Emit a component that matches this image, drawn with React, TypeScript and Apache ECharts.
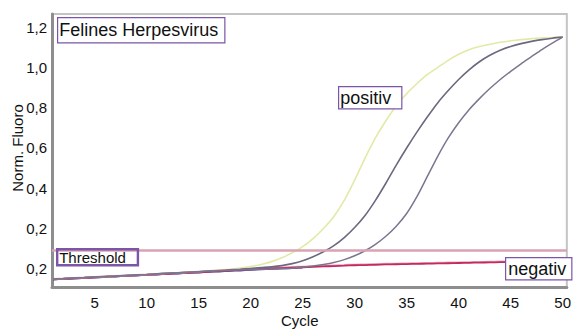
import React, { useEffect, useRef } from "react";
import * as echarts from "echarts";

const cycles = Array.from({ length: 50 }, (_, i) => i + 1);

const posYellow = [
  -0.05, -0.048, -0.045, -0.043, -0.04, -0.038, -0.036, -0.033, -0.03, -0.028,
  -0.025, -0.022, -0.02, -0.017, -0.014, -0.01, -0.006, -0.002, 0.004, 0.012,
  0.022, 0.036, 0.055, 0.08, 0.11, 0.15, 0.2, 0.26, 0.34, 0.44,
  0.55, 0.65, 0.735, 0.81, 0.87, 0.92, 0.965, 1.0, 1.035, 1.065,
  1.088, 1.104, 1.115, 1.125, 1.132, 1.138, 1.143, 1.146, 1.148, 1.15,
];

const posMiddle = [
  -0.05, -0.048, -0.045, -0.043, -0.04, -0.038, -0.036, -0.033, -0.03, -0.028,
  -0.025, -0.022, -0.02, -0.017, -0.014, -0.011, -0.008, -0.005, -0.002, 0.002,
  0.006, 0.01, 0.016, 0.026, 0.04, 0.06, 0.085, 0.115, 0.155, 0.205,
  0.265, 0.34, 0.425, 0.515, 0.6, 0.68, 0.755, 0.825, 0.885, 0.94,
  0.988, 1.028, 1.06, 1.085, 1.104, 1.118, 1.129, 1.138, 1.145, 1.15,
];

const posLate = [
  -0.05, -0.048, -0.045, -0.043, -0.04, -0.038, -0.036, -0.033, -0.03, -0.028,
  -0.025, -0.022, -0.02, -0.017, -0.014, -0.011, -0.009, -0.007, -0.005, -0.003,
  -0.002, -0.001, 0.0, 0.003, 0.008, 0.014, 0.022, 0.032, 0.046, 0.065,
  0.09, 0.122, 0.162, 0.212, 0.275, 0.36, 0.46, 0.56, 0.65, 0.725,
  0.79, 0.845, 0.895, 0.94, 0.98, 1.018, 1.053, 1.088, 1.12, 1.15,
];

const negRed = [
  -0.052, -0.05, -0.047, -0.045, -0.042, -0.04, -0.037, -0.035, -0.032, -0.03,
  -0.027, -0.025, -0.022, -0.02, -0.017, -0.014, -0.011, -0.008, -0.005, -0.002,
  0.0, 0.002, 0.004, 0.006, 0.008, 0.01, 0.012, 0.014, 0.016, 0.018,
  0.019, 0.02, 0.022, 0.023, 0.024, 0.025, 0.026, 0.027, 0.028, 0.029,
  0.03, 0.031, 0.032, 0.033, 0.034, 0.035, 0.036, 0.037, 0.037, 0.038,
];

const negPink = [
  -0.05, -0.048, -0.045, -0.043, -0.04, -0.038, -0.035, -0.033, -0.03, -0.028,
  -0.025, -0.022, -0.02, -0.017, -0.014, -0.011, -0.008, -0.005, -0.002, 0.0,
  0.003, 0.005, 0.007, 0.009, 0.011, 0.013, 0.015, 0.017, 0.019, 0.021,
  0.022, 0.024, 0.025, 0.026, 0.027, 0.028, 0.029, 0.03, 0.031, 0.032,
  0.033, 0.034, 0.035, 0.036, 0.037, 0.038, 0.039, 0.04, 0.041, 0.042,
];

const negBlue = [
  -0.053, -0.05, -0.048, -0.045, -0.043, -0.04, -0.038, -0.035, -0.033, -0.03,
  -0.028, -0.025, -0.023, -0.02, -0.018, -0.015, -0.013, -0.01, -0.008, -0.005,
  -0.003, 0.0, 0.002, 0.004, 0.006,
];

const thresholdValue = 0.089;

const xTicks = [5, 10, 15, 20, 25, 30, 35, 40, 45, 50];
const yTicks = [0, 0.2, 0.4, 0.6, 0.8, 1.0, 1.2];
const yTickLabels = ["0,2", "0,2", "0,4", "0,6", "0,8", "1,0", "1,2"];

const FONT = "Liberation Sans, Arial, Helvetica, sans-serif";

const pairs = (vals: number[]) => vals.map((v, i) => [cycles[i], v]);

export default function App() {
  const ref = useRef<HTMLDivElement>(null);

  useEffect(() => {
    if (!ref.current) return;
    const chart = echarts.init(ref.current, null, { renderer: "svg" });
    const lineSeries = (name: string, vals: number[], color: string, width = 1.6) => ({
      name,
      type: "line",
      data: pairs(vals),
      showSymbol: false,
      smooth: 0.3,
      lineStyle: { color, width },
      itemStyle: { color },
      z: 3,
    });
    chart.setOption({
      animation: false,
      backgroundColor: "#ffffff",
      grid: {
        left: 52,
        right: 2,
        top: 14,
        bottom: 42,
        show: true,
        borderColor: "#c4c4c4",
        borderWidth: 2,
        backgroundColor: "#ffffff",
      },
      xAxis: {
        type: "value",
        min: 0.9,
        max: 50.4,
        axisLine: { show: true, onZero: false, lineStyle: { color: "#8e8e8e", width: 3 } },
        axisTick: { show: false },
        splitLine: { show: false },
        axisLabel: {
          customValues: xTicks,
          color: "#111",
          fontSize: 15,
          fontFamily: FONT,
          margin: 8,
        },
      },
      yAxis: {
        type: "value",
        min: -0.09,
        max: 1.265,
        axisLine: { show: true, onZero: false, lineStyle: { color: "#8e8e8e", width: 3 } },
        axisTick: { show: false },
        splitLine: { show: false },
        axisLabel: {
          customValues: yTicks,
          color: "#111",
          fontSize: 15,
          fontFamily: FONT,
          margin: 5,
          formatter: (v: number) => {
            const idx = yTicks.findIndex((t) => Math.abs(t - v) < 1e-6);
            return idx >= 0 ? yTickLabels[idx] : "";
          },
        },
      },
      series: [
        {
          name: "Threshold",
          type: "line",
          data: [],
          markLine: {
            silent: true,
            symbol: "none",
            label: { show: false },
            lineStyle: { color: "#d9a3b3", width: 2.5, type: "solid" },
            data: [{ yAxis: thresholdValue }],
          },
        },
        lineSeries("negBlue", negBlue, "#3f3f9a", 1.8),
        lineSeries("negPink", negPink, "#e6a6c4", 2),
        lineSeries("negRed", negRed, "#c42a5e", 1.8),
        lineSeries("posYellow", posYellow, "#e3e9a6", 1.6),
        lineSeries("posMiddle", posMiddle, "#6c6880", 1.6),
        lineSeries("posLate", posLate, "#7d7590", 1.5),
      ],
      graphic: [
        {
          type: "text",
          left: 57,
          top: 17,
          z: 10,
          style: {
            text: "Felines Herpesvirus",
            fontSize: 18,
            fontFamily: FONT,
            fill: "#111",
            backgroundColor: "#fff",
            borderColor: "#7a55a8",
            borderWidth: 1.2,
            padding: [3, 6, 3, 1],
          },
        },
        {
          type: "text",
          left: 338,
          top: 86,
          z: 10,
          style: {
            text: "positiv",
            fontSize: 18,
            fontFamily: FONT,
            fill: "#111",
            backgroundColor: "#fff",
            borderColor: "#7a55a8",
            borderWidth: 1.2,
            padding: [2, 10, 1, 1],
          },
        },
        {
          type: "text",
          left: 56,
          top: 248,
          z: 10,
          style: {
            text: "Threshold",
            fontSize: 15,
            fontFamily: FONT,
            fill: "#111",
            backgroundColor: "rgba(255,255,255,0)",
            borderColor: "#7a55a8",
            borderWidth: 1.2,
            padding: [1, 12, 0, 2],
          },
        },
        {
          type: "text",
          left: 505,
          top: 257,
          z: 10,
          style: {
            text: "negativ",
            fontSize: 18,
            fontFamily: FONT,
            fill: "#111",
            backgroundColor: "#fff",
            borderColor: "#7a55a8",
            borderWidth: 1.2,
            padding: [2, 5, 1, 2],
          },
        },
        {
          type: "text",
          left: 281,
          top: 313,
          style: {
            text: "Cycle",
            fontSize: 15,
            fontFamily: FONT,
            fill: "#111",
          },
        },
        {
          type: "text",
          x: 17,
          y: 148,
          rotation: Math.PI / 2,
          style: {
            text: "Norm. Fluoro",
            fontSize: 15,
            fontFamily: FONT,
            fill: "#111",
            align: "center",
            verticalAlign: "middle",
          },
        },
      ],
    });
    return () => chart.dispose();
  }, []);

  return (
    <div
      ref={ref}
      style={{ position: "fixed", left: 0, top: 0, width: 574, height: 329 }}
    />
  );
}
